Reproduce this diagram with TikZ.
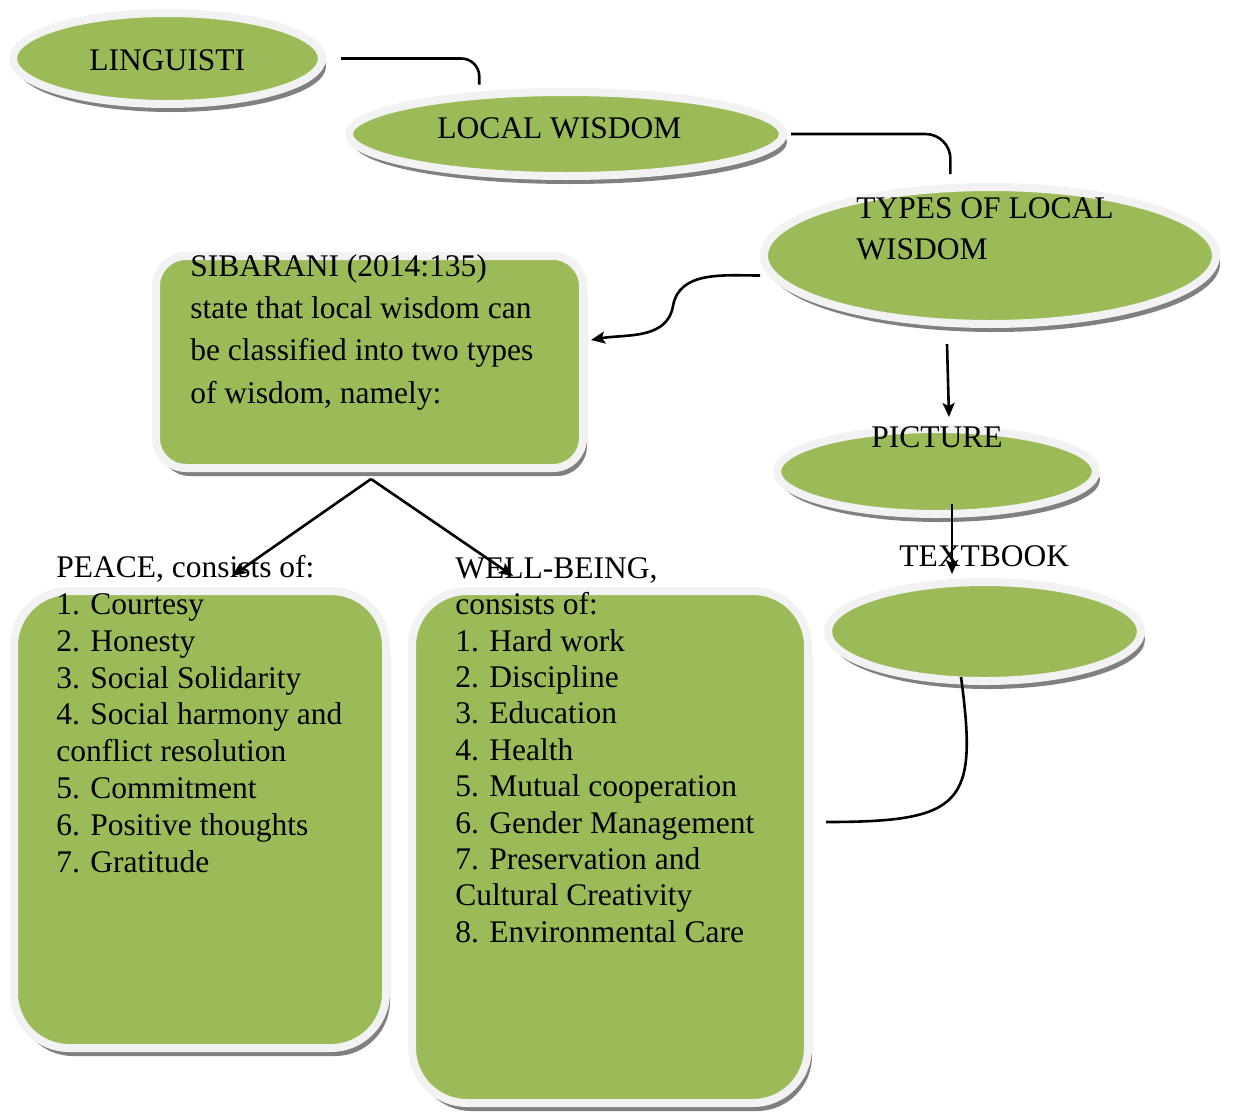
\documentclass[tikz,border=0pt]{standalone}
\usepackage{fontspec}
\setmainfont{Liberation Serif}
\usetikzlibrary{arrows.meta,shapes.geometric,shadows}

\definecolor{leafgreen}{HTML}{9BBB59}
\definecolor{rimgray}{HTML}{F2F2F2}
\definecolor{shadowgray}{HTML}{808080}

\begin{document}
\begin{tikzpicture}[x=1pt,y=-1pt,->,>={Stealth[length=14pt,width=12pt,inset=3pt]},line width=2.6pt]
      \tikzstyle{bubble}=[ellipse,draw=rimgray,line width=8pt,fill=leafgreen,inner sep=0pt,
                          drop shadow={shadow xshift=4pt,shadow yshift=-8pt,fill=shadowgray,opacity=1}]
      \tikzstyle{panel}=[rectangle,rounded corners=55pt,draw=rimgray,line width=8pt,fill=leafgreen,inner sep=0pt,
                          drop shadow={shadow xshift=4pt,shadow yshift=-8pt,fill=shadowgray,opacity=1}]
      \tikzstyle{words}=[anchor=base west,inner sep=0pt,font=\fontsize{31.5}{37}\selectfont]
      \tikzstyle{list}=[anchor=north west,inner sep=0pt,align=left]

      \useasboundingbox (0,0) rectangle (1233,1111);

      % shapes
      \node[bubble,minimum width=309pt,minimum height=91pt]  (ling)      at (167.5,58.5) {};
      \node[bubble,minimum width=434pt,minimum height=84pt]  (local)     at (566,134)    {};
      \node[bubble,minimum width=452pt,minimum height=137pt] (types)     at (990,255.5)  {};
      \node[panel,minimum width=427pt,minimum height=212pt,rounded corners=30pt]
                                                             (sibarani)  at (369.5,362)  {};
      \node[bubble,minimum width=319pt,minimum height=85pt]  (picture)   at (936.5,471.5) {};
      \node[bubble,minimum width=313pt,minimum height=99pt]  (book)      at (984.5,631.5) {};
      \node[panel,minimum width=372pt,minimum height=457pt]  (peace)     at (200,819.5)  {};
      \node[panel,minimum width=396pt,minimum height=512pt]  (wellbeing) at (610,847)    {};

      % texts
      \node[words] (lingtext)    at (88,70)   {LINGUISTI};
      \node[words] (localtext)   at (436,138) {LOCAL WISDOM};
      \node[words] (picturetext) at (870,447) {PICTURE};
      \node[words] (booktext)    at (898,566) {TEXTBOOK};
      \node[list,font=\fontsize{31.5}{41}\selectfont] (typestext) at (855,188.3)
            {\strut TYPES OF LOCAL\\WISDOM};
      \node[list,font=\fontsize{31.5}{42.3}\selectfont] (sibaranitext) at (189,245.4)
            {\strut SIBARANI (2014:135)\\state that local wisdom can\\be classified into two types\\of wisdom, namely:};
      \node[list,font=\fontsize{31.5}{36.9}\selectfont] (peacetext) at (55,550.2)
            {\strut PEACE, consists of:\\1. Courtesy\\2. Honesty\\3. Social Solidarity\\4. Social harmony and\\conflict resolution\\5. Commitment\\6. Positive thoughts\\7. Gratitude};
      \node[list,font=\fontsize{31.5}{36.4}\selectfont] (wellbeingtext) at (454,551.5)
            {\strut WELL-BEING,\\consists of:\\1. Hard work\\2. Discipline\\3. Education\\4. Health\\5. Mutual cooperation\\6. Gender Management\\7. Preservation and\\Cultural Creativity\\8. Environmental Care};

      % connectors
      \draw[-,rounded corners=18pt] ([xshift=15pt]ling.east) -| ([yshift=7pt]local.154);
      \draw[-,rounded corners=25pt] ([xshift=4pt]local.east) -| ([yshift=10pt]types.119);
      \coordinate (bend) at (673,306);
      \draw ([yshift=-20pt]types.west) to[out=180,in=80] (bend)
            to[out=-100,in=10] ([xshift=4pt,yshift=22pt]sibarani.east);
      \path ([xshift=1.5pt,yshift=-7pt]sibarani.south) edge ([xshift=32pt,yshift=11pt]peace.north)
                                                        edge ([xshift=-97pt,yshift=11pt]wellbeing.north)
            ([xshift=-43pt,yshift=-16pt]types.south)   edge ([xshift=12.5pt,yshift=8pt]picture.north)
            ([xshift=15.5pt,yshift=14pt]picture.south) edge ([xshift=-32.5pt,yshift=4pt]book.north);
      \draw[-] ([xshift=-23.5pt,yshift=8pt]book.south) .. controls +(17,127) and +(138,0)
            .. ([xshift=14pt,yshift=25pt]wellbeing.east);
\end{tikzpicture}
\end{document}
